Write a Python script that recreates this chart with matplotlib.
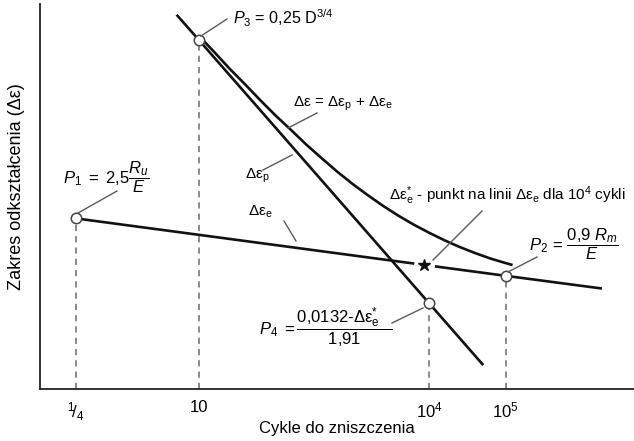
import matplotlib
matplotlib.use('Agg')
import matplotlib.pyplot as plt
from matplotlib.lines import Line2D
from matplotlib.ticker import NullLocator

plt.rcParams['font.family'] = ['Liberation Sans', 'DejaVu Sans']
plt.rcParams['mathtext.fontset'] = 'custom'
plt.rcParams['mathtext.rm'] = 'Liberation Sans'
plt.rcParams['mathtext.it'] = 'Liberation Sans:italic'
plt.rcParams['mathtext.bf'] = 'Liberation Sans:bold'
plt.rcParams['mathtext.sf'] = 'Liberation Sans'

# ---------------- data (cycles N on log axis, relative strain level) -------------
tick_N = [0.25, 10, 1e4, 1e5]
tick_labels = [r'$^{1}\!/_{4}$', '10', r'$10^{4}$', r'$10^{5}$']

elastic_N = [0.25, 1e5, 1.8e6]
elastic_y = [44.3, 29.4, 26.1]

plastic_N = [5.1, 10, 1e4, 5.1e4]
plastic_y = [97.2, 90.6, 22.3, 6.2]

total_N = [10, 16, 25, 40, 63, 100, 160, 250, 400, 630, 1000, 1600, 2500,
           4000, 6300, 1e4, 1.6e4, 2.5e4, 4e4, 6.3e4, 1e5, 1.23e5]
total_y = [91.7, 87.4, 83.2, 79.1, 75.0, 71.0, 67.2, 63.5, 59.9, 56.5, 53.3, 50.3, 47.6,
           45.0, 42.7, 40.6, 38.6, 36.9, 35.3, 33.9, 32.7, 32.2]

point_names = ['P1', 'P2', 'P3', 'P4']
point_N = [0.25, 1e5, 10, 1e4]
point_y = [44.3, 29.4, 90.6, 22.3]

star_N = 8.6e3
star_y = 32.3

xlabel = 'Cykle do zniszczenia'
ylabel = 'Zakres odkształcenia (Δε)'

# ---------------- figure ----------------
W, H = 634, 441
fig = plt.figure(figsize=(W / 100, H / 100), dpi=100)
ax = fig.add_axes([40 / W, (H - 389) / H, (W - 40) / W, 385 / H])
ax.set_xscale('log')
ax.set_xlim(10 ** -1.0747, 10 ** 6.6738)
ax.set_ylim(0, 100)

for s in ['top', 'right']:
    ax.spines[s].set_visible(False)
for s in ['left', 'bottom']:
    ax.spines[s].set_linewidth(1.3)
    ax.spines[s].set_color('#222222')

ax.set_yticks([])
ax.set_xticks(tick_N)
ax.set_xticklabels(tick_labels, fontsize=12)
ax.xaxis.set_minor_locator(NullLocator())
ax.tick_params(axis='x', length=0, pad=8)

ax.set_xlabel(xlabel, fontsize=12)
ax.xaxis.set_label_coords(0.5, -0.083)
ax.set_ylabel(ylabel, fontsize=13)
ax.yaxis.set_label_coords(-0.026, 0.525)

# dashed drop lines
for n, y in zip(point_N, point_y):
    ax.plot([n, n], [0, y], ls=(0, (3.2, 2.6)), color='#8a8a8a', lw=1.4, zorder=1)

# curves
kw = dict(color='#111111', lw=1.9, solid_capstyle='butt', solid_joinstyle='round', zorder=3)
ax.plot(elastic_N, elastic_y, **kw)
ax.plot(plastic_N, plastic_y, **kw)
ax.plot(total_N, total_y, **kw)

# star marker with white gap
ax.plot([star_N], [star_y], marker='o', ms=15, mfc='white', mec='none', ls='none', zorder=4)
ax.plot([star_N], [star_y], marker='*', ms=9, color='#111111', ls='none', zorder=5)

# points
ax.plot(point_N, point_y, 'o', ms=7.5, mfc='white', mec='#444444', mew=1.1, ls='none', zorder=6)


# ---------------- annotations (figure pixel positions) ----------------
def fx(x):
    return x / W


def fy(y):
    return 1 - y / H


def leader(x0, y0, x1, y1):
    fig.add_artist(Line2D([fx(x0), fx(x1)], [fy(y0), fy(y1)], transform=fig.transFigure,
                          color='#5a5a5a', lw=1.0))


fs = 12
leader(201, 36, 227, 19)
fig.text(fx(233), fy(24), r'$P_\mathit{3}$ = 0,25 D$^{3/4}$', fontsize=11.6, va='baseline', ha='left')

leader(78, 213, 117, 191)
fig.text(fx(63), fy(177), r'$P_\mathit{1}\ =\ 2{,}5\dfrac{R_u}{E}$', fontsize=fs, va='center', ha='left')

leader(317, 113, 288, 128)
fig.text(fx(293), fy(107), r'Δε = Δε$_\mathrm{p}$ + Δε$_\mathrm{e}$', fontsize=11, va='baseline', ha='left')

leader(263, 170, 292, 155)
fig.text(fx(245), fy(179), r'Δε$_\mathrm{p}$', fontsize=11, va='baseline', ha='left')

leader(284, 221, 296, 241)
fig.text(fx(248), fy(216), r'Δε$_\mathrm{e}$', fontsize=11, va='baseline', ha='left')

leader(433, 260, 482, 211)
fig.text(fx(389), fy(200), r'Δε$^{*}_\mathrm{e}$ - punkt na linii Δε$_\mathrm{e}$ dla 10$^{4}$ cykli',
         fontsize=11, va='baseline', ha='left')

leader(508, 272, 537, 257)
fig.text(fx(529), fy(244), r'$P_\mathit{2}\,=\,\dfrac{0{,}9\ R_m}{E}$', fontsize=fs, va='center', ha='left')

leader(392, 323, 423, 308)
fig.text(fx(259), fy(327),
         r'$P_\mathit{4}\ =\dfrac{\mathrm{0{,}0132‐Δε}^{*}_\mathrm{e}\;\;\;}{\mathrm{1{,}91}}$',
         fontsize=fs, va='center', ha='left')

fig.savefig('out.png', dpi=100)
